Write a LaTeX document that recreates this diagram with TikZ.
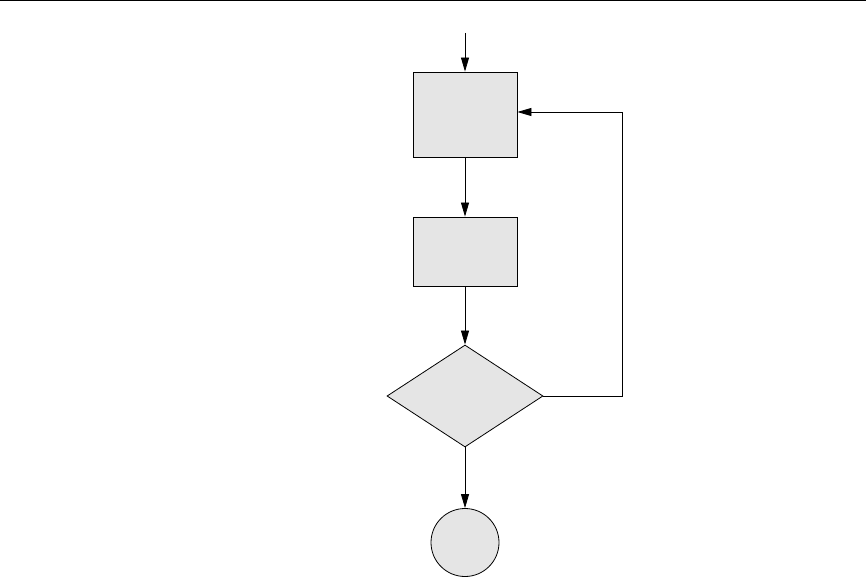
\documentclass[tikz,border=0pt]{standalone}
\usepackage{xcolor}
\usepackage{tikz}
\usetikzlibrary{arrows.meta,positioning,calc,shapes.geometric}

\begin{document}
\begin{tikzpicture}[>={Triangle[length=14pt,width=8pt]}, x=1pt, y=-1pt, line width=0.8pt,
  bx/.style={rectangle,draw,fill=gray!20,inner sep=0pt,minimum width=104pt},
  dm/.style={diamond,draw,fill=gray!20,inner sep=0pt,aspect=1.53,minimum width=156pt,minimum height=102pt},
  ci/.style={circle,draw,fill=gray!20,inner sep=0pt,minimum size=68pt}]
  \useasboundingbox (0,0) rectangle (866,577);
  \coordinate (l0) at (0,0.6);
  \coordinate (l1) at (866,0.6);
  \draw[line width=1.3pt] (l0) -- (l1);
  \coordinate (in) at (465,33);
  \node[bx,minimum height=85pt] (b1) at (465,114.5) {};
  \node[bx,minimum height=69pt] (b2) at (465,251.5) {};
  \node[dm] (d) at (465,396) {};
  \node[ci] (e) at (465,542.5) {};
  \coordinate (turn) at (622,112);
  \draw[->] (in) -- (b1);
  \draw[->] (b1) -- (b2);
  \draw[->] (b2) -- (d);
  \draw[->] (d) -- (e);
  \draw[->] (d.east) -| (turn) -- (b1.east |- turn);
\end{tikzpicture}
\end{document}
